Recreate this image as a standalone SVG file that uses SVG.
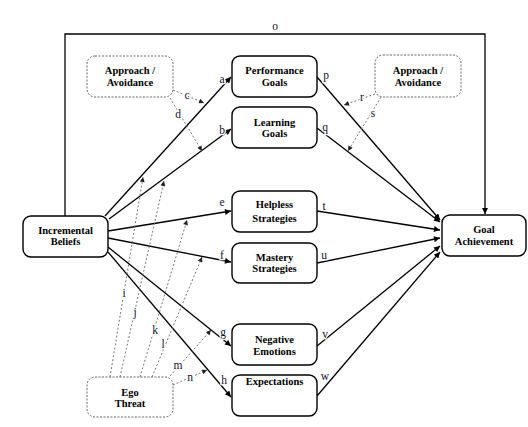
<svg xmlns="http://www.w3.org/2000/svg" width="528" height="427" viewBox="0 0 528 427">
<style>
.box{fill:#fff;stroke:#000;stroke-width:1.4}
.dbox{fill:#fff;stroke:#666;stroke-width:1;stroke-dasharray:2 1.5}
.nt{font-family:"Liberation Serif","Times New Roman",serif;font-weight:bold;font-size:10.5px;text-anchor:middle;fill:#000}
.ln{stroke:#000;stroke-width:1.3;fill:none}
.dl{stroke:#666;stroke-width:0.9;fill:none;stroke-dasharray:2 2}
.lb{font-family:"Liberation Serif","Times New Roman",serif;font-size:11.5px;text-anchor:middle;fill:#111133;stroke:#fff;stroke-width:2.5;paint-order:stroke}
</style>
<defs>
<marker id="ah" viewBox="0 0 10 10" refX="10" refY="5" markerWidth="7" markerHeight="6" markerUnits="userSpaceOnUse" orient="auto"><path d="M0,0L10,5L0,10z" fill="#000"/></marker>
<marker id="dh" viewBox="0 0 10 10" refX="10" refY="5" markerWidth="6" markerHeight="5" markerUnits="userSpaceOnUse" orient="auto"><path d="M0,0L10,5L0,10z" fill="#222"/></marker>
</defs>
<rect width="528" height="427" fill="#fff"/>
<g id="connectors">
<path class="ln" d="M65,216V34H485V214" marker-end="url(#ah)"/>
<line class="ln" x1="105" y1="216" x2="231" y2="77" marker-end="url(#ah)"/>
<line class="ln" x1="109" y1="219" x2="231" y2="129" marker-end="url(#ah)"/>
<line class="ln" x1="108" y1="231" x2="231" y2="211" marker-end="url(#ah)"/>
<line class="ln" x1="108" y1="238" x2="231" y2="262" marker-end="url(#ah)"/>
<line class="ln" x1="108" y1="247" x2="231" y2="346" marker-end="url(#ah)"/>
<line class="ln" x1="108" y1="252" x2="231" y2="397" marker-end="url(#ah)"/>
<line class="ln" x1="317" y1="77" x2="440" y2="220" marker-end="url(#ah)"/>
<line class="ln" x1="317" y1="128" x2="440" y2="222" marker-end="url(#ah)"/>
<line class="ln" x1="317" y1="211" x2="440" y2="230" marker-end="url(#ah)"/>
<line class="ln" x1="317" y1="263" x2="440" y2="238" marker-end="url(#ah)"/>
<line class="ln" x1="317" y1="346" x2="440" y2="246" marker-end="url(#ah)"/>
<line class="ln" x1="317" y1="396" x2="440" y2="252" marker-end="url(#ah)"/>
<line class="dl" x1="173" y1="90" x2="204" y2="103" marker-end="url(#dh)"/>
<line class="dl" x1="170" y1="98" x2="202" y2="151" marker-end="url(#dh)"/>
<line class="dl" x1="375" y1="94" x2="344" y2="105" marker-end="url(#dh)"/>
<line class="dl" x1="381" y1="97" x2="348" y2="151" marker-end="url(#dh)"/>
<line class="dl" x1="110" y1="377" x2="143" y2="177" marker-end="url(#dh)"/>
<line class="dl" x1="120" y1="377" x2="164" y2="181" marker-end="url(#dh)"/>
<line class="dl" x1="140" y1="377" x2="187" y2="220" marker-end="url(#dh)"/>
<line class="dl" x1="152" y1="377" x2="202" y2="257" marker-end="url(#dh)"/>
<line class="dl" x1="170" y1="376" x2="211" y2="330" marker-end="url(#dh)"/>
<line class="dl" x1="173" y1="385" x2="207" y2="370" marker-end="url(#dh)"/>
<text class="lb" x="222" y="83">a</text>
<text class="lb" x="222" y="134">b</text>
<text class="lb" x="187" y="99">c</text>
<text class="lb" x="178" y="118">d</text>
<text class="lb" x="222" y="206">e</text>
<text class="lb" x="222" y="259">f</text>
<text class="lb" x="223" y="336">g</text>
<text class="lb" x="224" y="384">h</text>
<text class="lb" x="124" y="297">i</text>
<text class="lb" x="135" y="316">j</text>
<text class="lb" x="155" y="334">k</text>
<text class="lb" x="163" y="348">l</text>
<text class="lb" x="178" y="369">m</text>
<text class="lb" x="190" y="381">n</text>
<text class="lb" x="275" y="30">o</text>
<text class="lb" x="326" y="79">p</text>
<text class="lb" x="325" y="131">q</text>
<text class="lb" x="362" y="101">r</text>
<text class="lb" x="373" y="117">s</text>
<text class="lb" x="324" y="210">t</text>
<text class="lb" x="324" y="259">u</text>
<text class="lb" x="325" y="338">v</text>
<text class="lb" x="325" y="380">w</text>
</g>
<g id="incremental"><rect class="box" x="23" y="216" width="85" height="41" rx="8"/><text class="nt" x="65.5" y="233.5">Incremental</text><text class="nt" x="65.5" y="245">Beliefs</text></g>
<g id="performance"><rect class="box" x="232" y="56" width="85" height="41" rx="8"/><text class="nt" x="274.5" y="74">Performance</text><text class="nt" x="274.5" y="86">Goals</text></g>
<g id="learning"><rect class="box" x="232" y="107" width="85" height="41" rx="8"/><text class="nt" x="274.5" y="125.5">Learning</text><text class="nt" x="274.5" y="137">Goals</text></g>
<g id="helpless"><rect class="box" x="232" y="191" width="85" height="41" rx="8"/><text class="nt" x="274.5" y="208">Helpless</text><text class="nt" x="274.5" y="221.5">Strategies</text></g>
<g id="mastery"><rect class="box" x="232" y="243" width="85" height="40" rx="8"/><text class="nt" x="274.5" y="260.5">Mastery</text><text class="nt" x="274.5" y="272">Strategies</text></g>
<g id="negative"><rect class="box" x="232" y="324" width="85" height="41" rx="8"/><text class="nt" x="274.5" y="343">Negative</text><text class="nt" x="274.5" y="355">Emotions</text></g>
<g id="expectations"><rect class="box" x="232" y="375" width="85" height="41" rx="8"/><text class="nt" x="274.5" y="384.5">Expectations</text></g>
<g id="goal"><rect class="box" x="442" y="215" width="84" height="41" rx="8"/><text class="nt" x="484" y="233">Goal</text><text class="nt" x="484" y="245">Achievement</text></g>
<g id="approach-left"><rect class="dbox" x="87" y="56" width="86" height="41" rx="8"/><text class="nt" x="130" y="74">Approach /</text><text class="nt" x="130" y="86">Avoidance</text></g>
<g id="approach-right"><rect class="dbox" x="375" y="55" width="86" height="42" rx="8"/><text class="nt" x="418" y="74">Approach /</text><text class="nt" x="418" y="85.5">Avoidance</text></g>
<g id="ego"><rect class="dbox" x="87" y="377" width="86" height="40" rx="8"/><text class="nt" x="130" y="395.5">Ego</text><text class="nt" x="130" y="407">Threat</text></g>
</svg>
